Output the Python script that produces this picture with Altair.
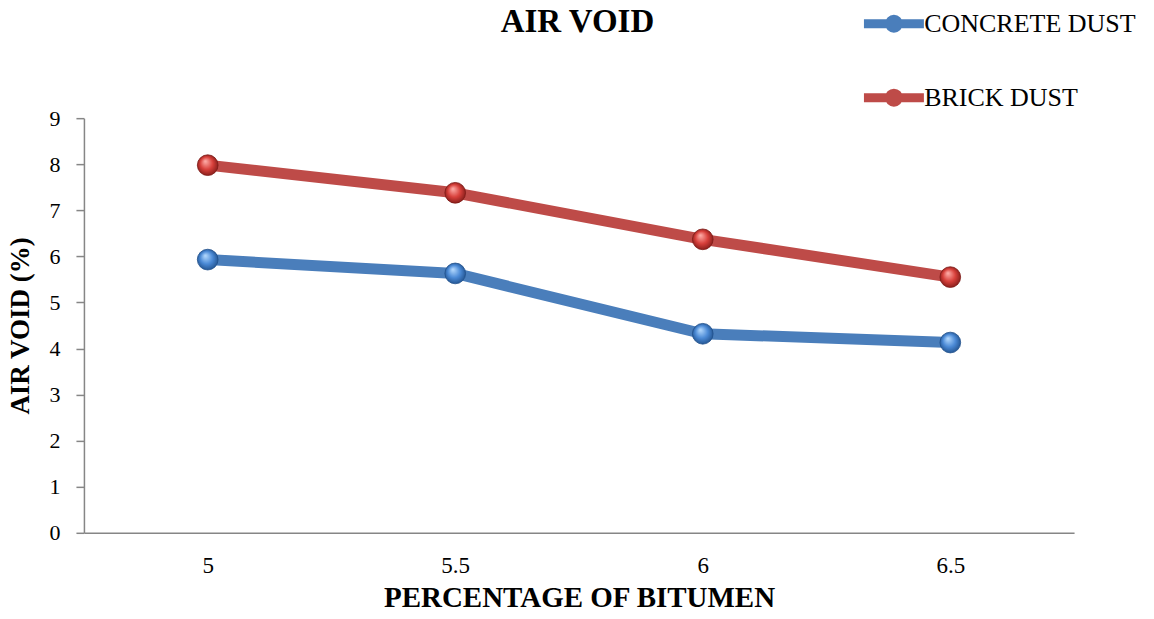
import altair as alt
import pandas as pd

bitumen = ["5", "5.5", "6", "6.5"]
concrete_dust = [5.93, 5.63, 4.32, 4.13]
brick_dust = [7.98, 7.38, 6.37, 5.55]
series_names = ["CONCRETE DUST", "BRICK DUST"]
series_colors = ["#4A7EBB", "#BE4B48"]
chart_title = "AIR VOID"

rows = []
for name, vals in zip(series_names, [concrete_dust, brick_dust]):
    for b, v in zip(bitumen, vals):
        rows.append({"bitumen": b, "value": v, "series": name})
df = pd.DataFrame(rows)

FONT = "Liberation Serif"
# stroked legend glyph: a bar plus a small ring whose thick stroke makes a solid disc
legend_path = ("M -0.86 0 L 1.14 0 "
               "M 0.29 0 A 0.15 0.15 0 1 1 -0.01 0 A 0.15 0.15 0 1 1 0.29 0")

x_enc = alt.X("bitumen:O", sort=bitumen,
              scale=alt.Scale(type="point", padding=0.5),
              axis=alt.Axis(title="PERCENTAGE OF BITUMEN", labelAngle=0, ticks=False,
                            labelFont=FONT, titleFont=FONT, titleFontWeight="bold",
                            labelFontSize=23, labelPadding=22, titleFontSize=29,
                            titlePadding=6, domainColor="#868686", domainWidth=1.5,
                            labelColor="black", titleColor="black"))
y_enc = alt.Y("value:Q",
              scale=alt.Scale(domain=[0, 9], nice=False),
              axis=alt.Axis(title="AIR VOID (%)", values=list(range(10)), grid=False,
                            labelFont=FONT, titleFont=FONT, titleFontWeight="bold",
                            tickSize=8, tickColor="#868686", domainColor="#868686",
                            domainWidth=1.5, tickWidth=1.5,
                            labelFontSize=22, labelPadding=16, titleFontSize=27,
                            titlePadding=14, labelColor="black", titleColor="black"))

lines = alt.Chart(df).mark_line(strokeWidth=11, strokeJoin="round").encode(
    x=x_enc, y=y_enc,
    color=alt.Color("series:N", sort=series_names,
                    scale=alt.Scale(domain=series_names, range=series_colors),
                    legend=alt.Legend(title=None, orient="none", legendX=772, legendY=-129,
                                      symbolType=legend_path, symbolSize=3600,
                                      symbolStrokeWidth=9, symbolOpacity=1,
                                      labelFontSize=26, labelFont=FONT, labelOffset=0,
                                      labelColor="black", rowPadding=16, padding=0,
                                      labelLimit=400)),
)

def balls(name, c0, c1, c2):
    grad = alt.RadialGradient(gradient="radial", x1=0.38, y1=0.3, r1=0.0,
                              x2=0.5, y2=0.5, r2=0.55,
                              stops=[alt.GradientStop(offset=0, color=c0),
                                     alt.GradientStop(offset=0.55, color=c1),
                                     alt.GradientStop(offset=1, color=c2)])
    return alt.Chart(df).transform_filter(alt.datum.series == name).mark_point(
        shape="circle", filled=True, size=430, fill=grad, opacity=1,
        stroke=c2, strokeWidth=0.8).encode(x=x_enc, y=y_enc)

title_layer = alt.Chart(pd.DataFrame({"t": [chart_title]})).mark_text(
    font=FONT, fontSize=33, fontWeight="bold", color="black",
    align="center", baseline="alphabetic").encode(
    text="t:N", x=alt.value(494), y=alt.value(-86))

chart = alt.layer(
    lines,
    balls("CONCRETE DUST", "#b8dcff", "#4b8ad6", "#1f4f8a"),
    balls("BRICK DUST", "#ffb2ad", "#d8403b", "#7e1a17"),
    title_layer,
).properties(
    width=991, height=415,
    background="white",
    autosize=alt.AutoSizeParams(type="none"),
    padding={"left": 76, "top": 110, "right": 72, "bottom": 78},
).configure_view(stroke=None)

chart.save("out.html", embed_options={"renderer": "svg", "actions": False})
